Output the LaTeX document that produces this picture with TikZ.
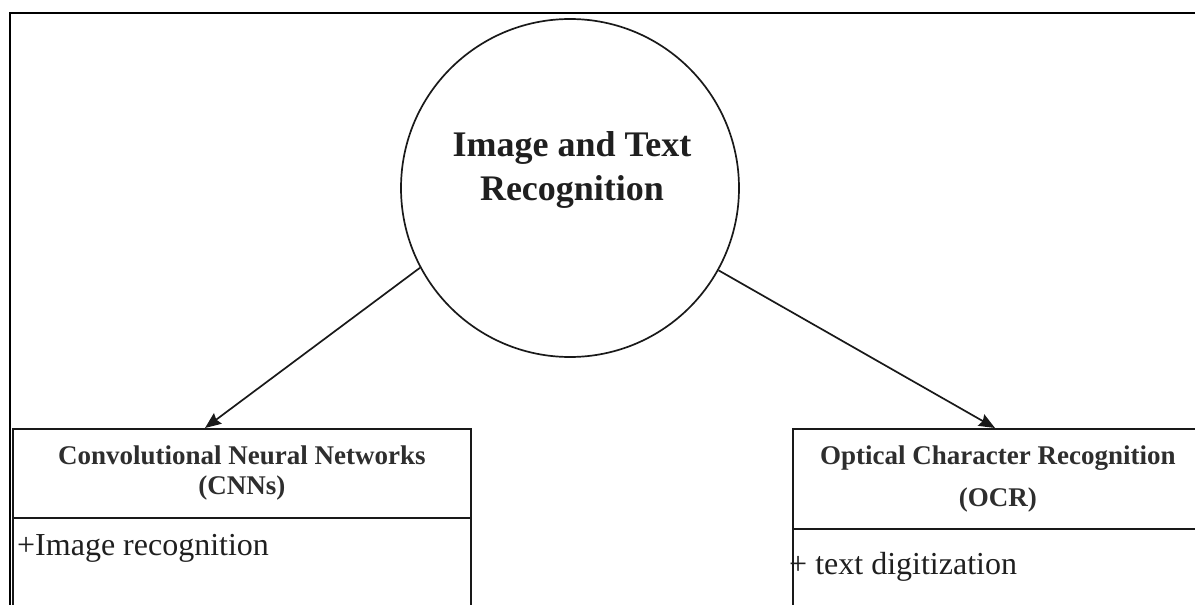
\documentclass[tikz,border=0pt]{standalone}
\usepackage{fontspec}
\setmainfont{Liberation Serif}
\usetikzlibrary{arrows.meta}
\begin{document}
\begin{tikzpicture}[x=1pt,y=-1pt,
  ink/.style={draw=black!90,line width=1.7pt},
  hub/.style={ink,circle,minimum size=338pt,inner sep=0pt},
  hubtext/.style={align=center,inner sep=0pt,text=black!88,
    font=\fontsize{36}{44}\selectfont\bfseries},
  headbox/.style={ink,rectangle,anchor=north west,inner sep=0pt,align=center,
    text=black!82,font=\fontsize{27}{30}\selectfont\bfseries},
  bodybox/.style={ink,rectangle,anchor=north west,inner sep=0pt},
  item/.style={anchor=west,inner sep=0pt,text=black!88,font=\fontsize{32}{38}\selectfont},
  link/.style={ink,-{Stealth[length=16pt,width=13pt,inset=2pt]}}]

\useasboundingbox (0,0) rectangle (1195,605);
\clip (0,0) rectangle (1195,605);

% outer frame
\draw[line width=2.4pt,black] (10,700) -- (10,13) -- (1300,13);

% central topic
\node[hub] (hub) at (570,188) {};
\node[hubtext] (hublabel) at (572,170) {Image and Text\\Recognition};

% left class box
\node[headbox,minimum width=458pt,minimum height=89pt] (cnnhead) at (12,428)
  {Convolutional Neural Networks\\(CNNs)};
\node[bodybox,minimum width=458pt,minimum height=120pt] (cnnbody) at (12,517) {};
\node[item] (cnnitem) at (17,548) {+Image recognition};

% right class box
\node[headbox,minimum width=410pt,minimum height=100pt,
  font=\fontsize{27}{42}\selectfont\bfseries] (ocrhead) at (792,428)
  {Optical Character Recognition\\(OCR)};
\node[bodybox,minimum width=410pt,minimum height=120pt] (ocrbody) at (792,528) {};
\node[item] (ocritem) at (789,567) {+ text digitization};

% connectors
\draw[link] (hub.208) -- ([xshift=193pt]cnnhead.north west);
\draw[link] (hub.331) -- ([xshift=203pt]ocrhead.north west);
\end{tikzpicture}
\end{document}
